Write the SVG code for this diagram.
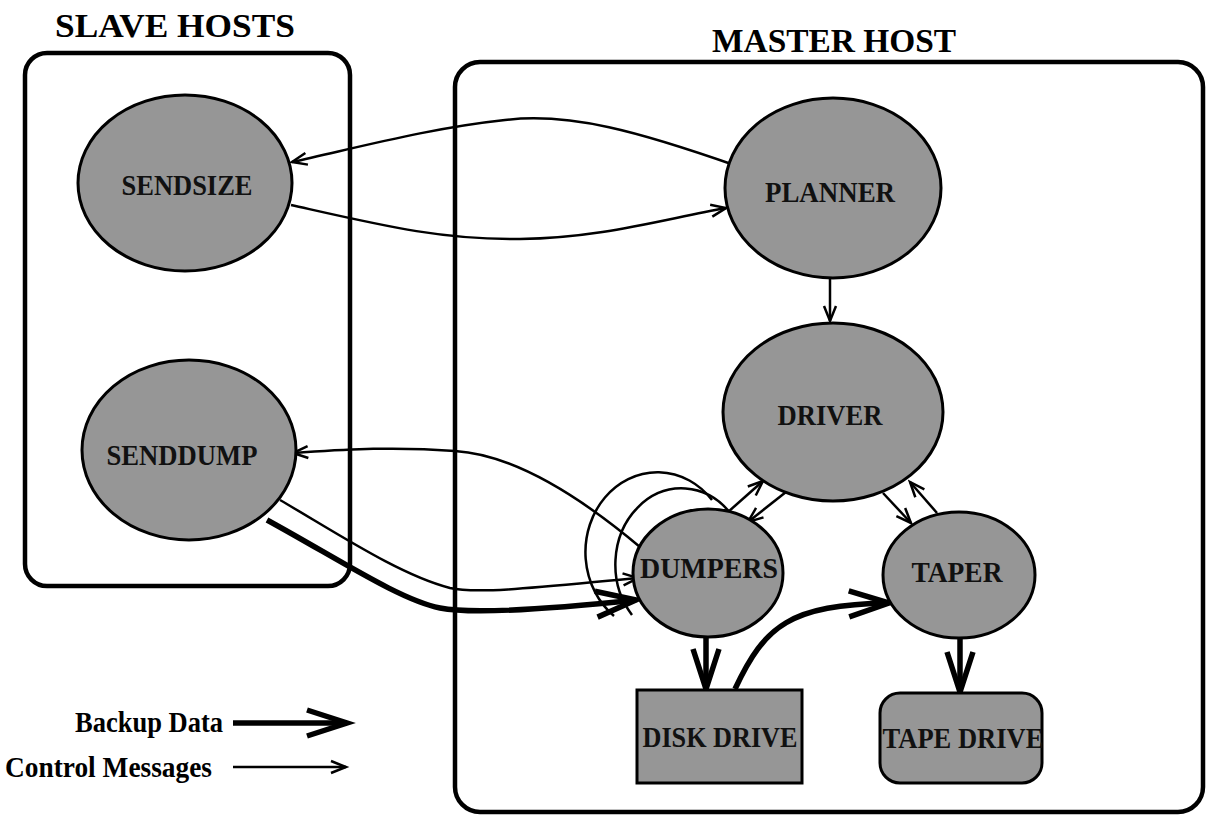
<svg xmlns="http://www.w3.org/2000/svg" width="1208" height="816" viewBox="0 0 1208 816">
  <defs>
    <style>
      .host { fill: none; stroke: #000; stroke-width: 4.5; }
      .node { fill: #969696; stroke: #000; stroke-width: 3; }
      .lbl { font-family: "Liberation Serif", "Times New Roman", serif; font-weight: bold; font-size: 29px; fill: #111; text-anchor: middle; }
      .title { font-family: "Liberation Serif", "Times New Roman", serif; font-weight: bold; font-size: 34px; fill: #000; text-anchor: middle; }
      .legend { font-family: "Liberation Serif", "Times New Roman", serif; font-weight: bold; font-size: 29px; fill: #000; }
      .ctl { fill: none; stroke: #000; stroke-width: 2.5; }
      .data { fill: none; stroke: #000; stroke-width: 5.5; }
      .ctlArrow { marker-end: url(#thinHead); }
      .dataArrow { marker-end: url(#thickHead); }
    </style>
    <marker id="thinHead" markerUnits="userSpaceOnUse" orient="auto" refX="0" refY="0" markerWidth="20" markerHeight="20" overflow="visible">
      <path d="M-15,-6 L0,0 L-15,6" fill="none" stroke="#000" stroke-width="2.5"/>
    </marker>
    <marker id="thickHead" markerUnits="userSpaceOnUse" orient="auto" refX="0" refY="0" markerWidth="50" markerHeight="40" overflow="visible">
      <path d="M-40,-13 L0,0 L-40,13" fill="none" stroke="#000" stroke-width="5.5"/>
    </marker>
  </defs>

  <rect width="1208" height="816" fill="#fff"/>

  <!-- host boundaries and titles -->
  <g id="slave-hosts">
    <rect class="host" x="25" y="53" width="325" height="533" rx="22"/>
    <text class="title" x="175" y="37" textLength="240" lengthAdjust="spacingAndGlyphs">SLAVE HOSTS</text>
  </g>
  <g id="master-host">
    <rect class="host" x="455" y="62" width="748" height="750" rx="25"/>
    <text class="title" x="834" y="52" textLength="244" lengthAdjust="spacingAndGlyphs">MASTER HOST</text>
  </g>

  <!-- connectors -->
  <g id="connectors">
    <!-- multiple dumper instances -->
    <path class="ctl" d="M712,500 A72,80 0 1 0 614,616"/>
    <path class="ctl" d="M731,514 A66,76 0 1 0 632,615"/>

    <!-- control messages -->
    <path class="ctl ctlArrow" d="M737,166 C640,132 570,112 505,120 C430,128 360,147 292,162"/>
    <path class="ctl ctlArrow" d="M291,205 C380,225 440,240 520,239 C600,238 660,220 726,208"/>
    <path class="ctl ctlArrow" d="M830,278 L830,321"/>
    <path class="ctl ctlArrow" d="M728,512 L763,481"/>
    <path class="ctl ctlArrow" d="M786,492 L748,522"/>
    <path class="ctl ctlArrow" d="M883,493 L911,523"/>
    <path class="ctl ctlArrow" d="M937,513 L910,482"/>
    <path class="ctl ctlArrow" d="M640,547 C590,505 520,455 455,451 C390,446 340,450 293,453"/>
    <path class="ctl ctlArrow" d="M280,500 C340,535 400,575 450,588 C480,595 560,585 638,578"/>

    <!-- backup data -->
    <path class="data dataArrow" d="M267,520 C340,560 400,600 440,608 C475,615 560,608 636,600"/>
    <path class="data dataArrow" d="M706,637 L706,689"/>
    <path class="data dataArrow" d="M960,638 L960,692"/>
    <path class="data dataArrow" d="M735,689 C765,625 790,605 889,603"/>
  </g>

  <!-- processes and devices -->
  <g id="sendsize">
    <ellipse class="node" cx="185" cy="183" rx="107" ry="88"/>
    <text class="lbl" x="187" y="195" textLength="131" lengthAdjust="spacingAndGlyphs">SENDSIZE</text>
  </g>
  <g id="senddump">
    <ellipse class="node" cx="189" cy="450" rx="107" ry="90"/>
    <text class="lbl" x="182" y="465" textLength="151" lengthAdjust="spacingAndGlyphs">SENDDUMP</text>
  </g>
  <g id="planner">
    <ellipse class="node" cx="833" cy="188" rx="108" ry="90"/>
    <text class="lbl" x="830" y="202" textLength="130" lengthAdjust="spacingAndGlyphs">PLANNER</text>
  </g>
  <g id="driver">
    <ellipse class="node" cx="833" cy="412" rx="110" ry="89"/>
    <text class="lbl" x="830" y="425" textLength="105" lengthAdjust="spacingAndGlyphs">DRIVER</text>
  </g>
  <g id="dumpers">
    <ellipse class="node" cx="708" cy="573" rx="75" ry="64"/>
    <text class="lbl" x="709" y="578" textLength="138" lengthAdjust="spacingAndGlyphs">DUMPERS</text>
  </g>
  <g id="taper">
    <ellipse class="node" cx="959" cy="575" rx="76" ry="63"/>
    <text class="lbl" x="957" y="582" textLength="91" lengthAdjust="spacingAndGlyphs">TAPER</text>
  </g>
  <g id="disk-drive">
    <rect class="node" x="637" y="690" width="165" height="93"/>
    <text class="lbl" x="720" y="747" textLength="155" lengthAdjust="spacingAndGlyphs">DISK DRIVE</text>
  </g>
  <g id="tape-drive">
    <rect class="node" x="880" y="693" width="162" height="90" rx="20"/>
    <text class="lbl" x="963" y="748" textLength="161" lengthAdjust="spacingAndGlyphs">TAPE DRIVE</text>
  </g>

  <!-- legend -->
  <g id="legend">
    <text class="legend" x="75" y="732" textLength="148" lengthAdjust="spacingAndGlyphs">Backup Data</text>
    <path class="data dataArrow" d="M233,723 L347,723"/>
    <text class="legend" x="5" y="777" textLength="207" lengthAdjust="spacingAndGlyphs">Control Messages</text>
    <path class="ctl ctlArrow" d="M233,767 L346,767"/>
  </g>
</svg>
